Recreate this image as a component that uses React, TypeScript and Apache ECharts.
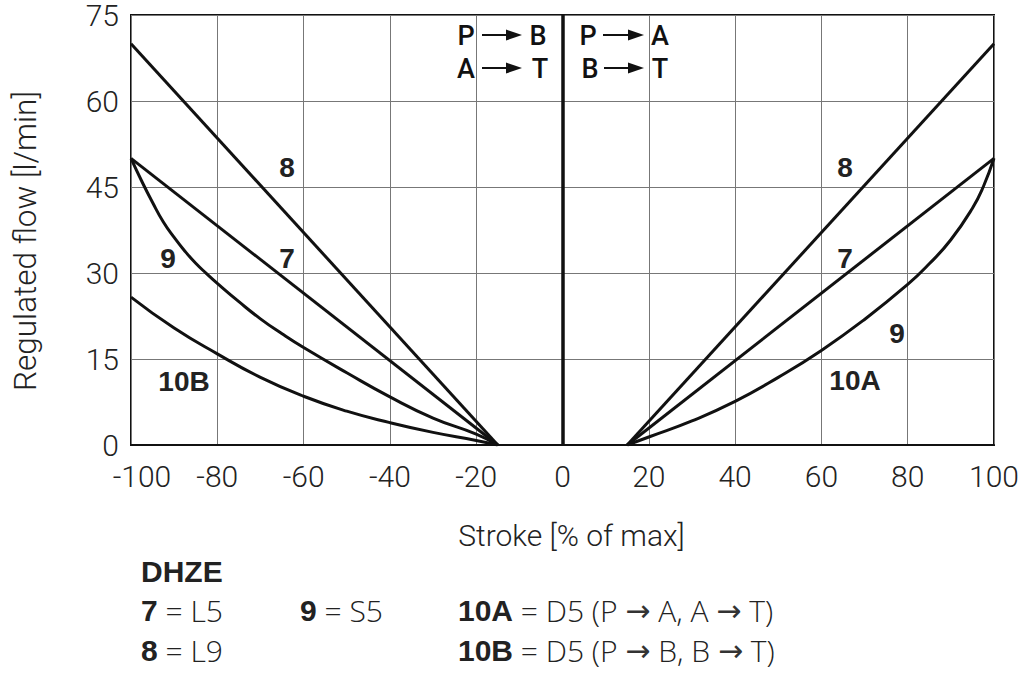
import React, { useEffect, useRef } from "react";
import * as echarts from "echarts";

// ---- Data ----
const xTicks = [-100, -80, -60, -40, -20, 0, 20, 40, 60, 80, 100];
const yTicks = [0, 15, 30, 45, 60, 75];

// Left side (P→B, A→T)
const strokeLine8Left = [-100, -15];
const flowLine8Left = [70, 0];
const strokeLine7Left = [-100, -15];
const flowLine7Left = [50, 0];
const strokeCurve9Left = [-100, -97.5, -95, -92.5, -90, -87.5, -85, -82.5, -80, -75, -70, -65, -60, -50, -40, -30, -20, -15];
const flowCurve9Left = [50, 46.0, 42.3, 38.9, 36.2, 33.8, 31.7, 29.9, 28.2, 25.0, 22.0, 19.4, 17.0, 12.6, 8.4, 4.7, 1.9, 0];
const strokeCurve10BLeft = [-100, -90, -80, -70, -60, -50, -40, -30, -20, -15];
const flowCurve10BLeft = [25.8, 20.4, 15.9, 11.8, 8.5, 5.9, 3.9, 2.2, 0.8, 0];

// Right side (P→A, B→T)
const strokeLine8Right = [15, 100];
const flowLine8Right = [0, 70];
const strokeLine7Right = [15, 100];
const flowLine7Right = [0, 50];
const strokeCurve9Right = [15, 20, 30, 40, 50, 60, 70, 80, 85, 90, 95, 97.5, 100];
const flowCurve9Right = [0, 1.4, 4.2, 7.6, 11.8, 16.5, 21.9, 28.0, 31.6, 35.8, 41.3, 45.0, 50];

const zip = (xs: number[], ys: number[]) => xs.map((x, i) => [x, ys[i]]);

const LIGHT = "Roboto, 'Liberation Sans', sans-serif";
const LEG = "'Open Sans', Roboto, sans-serif";
const BOLD = "'Liberation Sans', Arial, sans-serif";
const ARROWF = "'DejaVu Sans', sans-serif";

export default function App() {
  const ref = useRef<HTMLDivElement>(null);

  useEffect(() => {
    if (!ref.current) return;
    const chart = echarts.init(ref.current, undefined, { renderer: "svg" });

    const curveStyle = { color: "#111", width: 3 };
    const mk = (name: string, data: number[][], smooth: boolean) => ({
      name,
      type: "line",
      data,
      symbol: "none",
      smooth: smooth ? 0.5 : false,
      lineStyle: curveStyle,
      silent: true,
    });

    const labelText = (text: string, x: number, y: number) => ({
      type: "text",
      x,
      y,
      style: {
        text,
        fill: "#222",
        font: `bold 28px ${BOLD}`,
        align: "center",
        verticalAlign: "middle",
      },
    });

    const annText = (text: string, x: number, y: number) => ({
      type: "text",
      x,
      y,
      style: {
        text,
        fill: "#111",
        font: `500 27px ${LIGHT}`,
        align: "center",
        verticalAlign: "middle",
      },
    });

    const arrow = (x1: number, x2: number, y: number) => [
      {
        type: "line",
        shape: { x1, y1: y, x2: x2 - 14, y2: y },
        style: { stroke: "#111", lineWidth: 2 },
      },
      {
        type: "polygon",
        shape: { points: [[x2 - 16, y - 5.5], [x2, y], [x2 - 16, y + 5.5]] },
        style: { fill: "#111" },
      },
    ];

    const rich = {
      b: { font: `bold 30px ${BOLD}`, fill: "#222" },
      n: { font: `300 30px ${LEG}`, fill: "#222" },
      a: { font: `30px ${ARROWF}`, fill: "#333" },
    };
    const legendText = (text: string, x: number, y: number) => ({
      type: "text",
      x,
      y,
      style: {
        text,
        rich,
        fill: "#222",
        font: `300 30px ${LEG}`,
        align: "left",
        verticalAlign: "middle",
      },
    });

    const tickFont = { fontFamily: LIGHT, fontWeight: 300, fontSize: 30, color: "#222" };

    chart.setOption({
      animation: false,
      backgroundColor: "#fff",
      grid: {
        left: 131,
        right: 30,
        top: 12,
        bottom: 230,
        show: true,
        borderColor: "#111",
        borderWidth: 2,
        containLabel: false,
      },
      xAxis: {
        type: "value",
        min: xTicks[0],
        max: xTicks[xTicks.length - 1],
        interval: 20,
        name: "Stroke [% of max]",
        nameLocation: "middle",
        nameGap: 75,
        nameTextStyle: { ...tickFont, padding: [0, 0, 0, 18] },
        axisLine: { show: true, lineStyle: { color: "#111", width: 2 } },
        axisTick: { show: false },
        axisLabel: {
          ...tickFont,
          margin: 16,
          formatter: (v: number) => (v === xTicks[0] ? `{p|${v}}` : String(v)),
          rich: { p: { ...tickFont, padding: [0, 0, 0, 22] } },
        },
        splitLine: { show: true, lineStyle: { color: "#777", width: 1 } },
      },
      yAxis: {
        type: "value",
        min: yTicks[0],
        max: yTicks[yTicks.length - 1],
        interval: 15,
        name: "Regulated flow [l/min]",
        nameLocation: "middle",
        nameGap: 90,
        nameTextStyle: { ...tickFont, fontSize: 31.5, padding: [0, 22, 0, 0] },
        axisLine: { show: true, lineStyle: { color: "#111", width: 2 } },
        axisTick: { show: false },
        axisLabel: { ...tickFont, margin: 12, lineHeight: 24 },
        splitLine: { show: true, lineStyle: { color: "#777", width: 1 } },
      },
      series: [
        {
          ...mk("8 left", zip(strokeLine8Left, flowLine8Left), false),
          markLine: {
            silent: true,
            symbol: "none",
            label: { show: false },
            lineStyle: { color: "#111", width: 3.5, type: "solid" },
            data: [{ xAxis: 0 }],
          },
        },
        mk("7 left", zip(strokeLine7Left, flowLine7Left), false),
        mk("9 left", zip(strokeCurve9Left, flowCurve9Left), true),
        mk("10B left", zip(strokeCurve10BLeft, flowCurve10BLeft), true),
        mk("8 right", zip(strokeLine8Right, flowLine8Right), false),
        mk("7 right", zip(strokeLine7Right, flowLine7Right), false),
        mk("9/10A right", zip(strokeCurve9Right, flowCurve9Right), true),
      ],
      graphic: [
        // curve labels
        labelText("8", 287, 167),
        labelText("7", 287, 258),
        labelText("9", 168, 258),
        labelText("10B", 184, 381),
        labelText("8", 845, 167),
        labelText("7", 845, 258),
        labelText("9", 897, 333),
        labelText("10A", 855, 380),
        // flow direction annotations
        annText("P", 466, 36),
        ...arrow(482, 522, 35),
        annText("B", 538, 36),
        annText("A", 466, 69),
        ...arrow(482, 522, 68),
        annText("T", 540, 69),
        annText("P", 588, 36),
        ...arrow(603, 644, 35),
        annText("A", 660, 36),
        annText("B", 590, 69),
        ...arrow(604, 644, 68),
        annText("T", 660, 69),
        // legend block
        {
          type: "text",
          x: 141,
          y: 571,
          style: { text: "DHZE", font: `bold 30px ${BOLD}`, fill: "#222", align: "left", verticalAlign: "middle" },
        },
        legendText("{b|7}{n| = L5}", 141, 610),
        legendText("{b|9}{n| = S5}", 300, 610),
        legendText("{b|10A}{n| = D5 (P }{a|\u2192}{n| A, A }{a|\u2192}{n| T)}", 458, 610),
        legendText("{b|8}{n| = L9}", 141, 650),
        legendText("{b|10B}{n| = D5 (P }{a|\u2192}{n| B, B }{a|\u2192}{n| T)}", 458, 650),
      ],
    });

    return () => chart.dispose();
  }, []);

  return (
    <div
      ref={ref}
      style={{ position: "fixed", left: 0, top: 0, width: 1024, height: 675, background: "#fff" }}
    />
  );
}
